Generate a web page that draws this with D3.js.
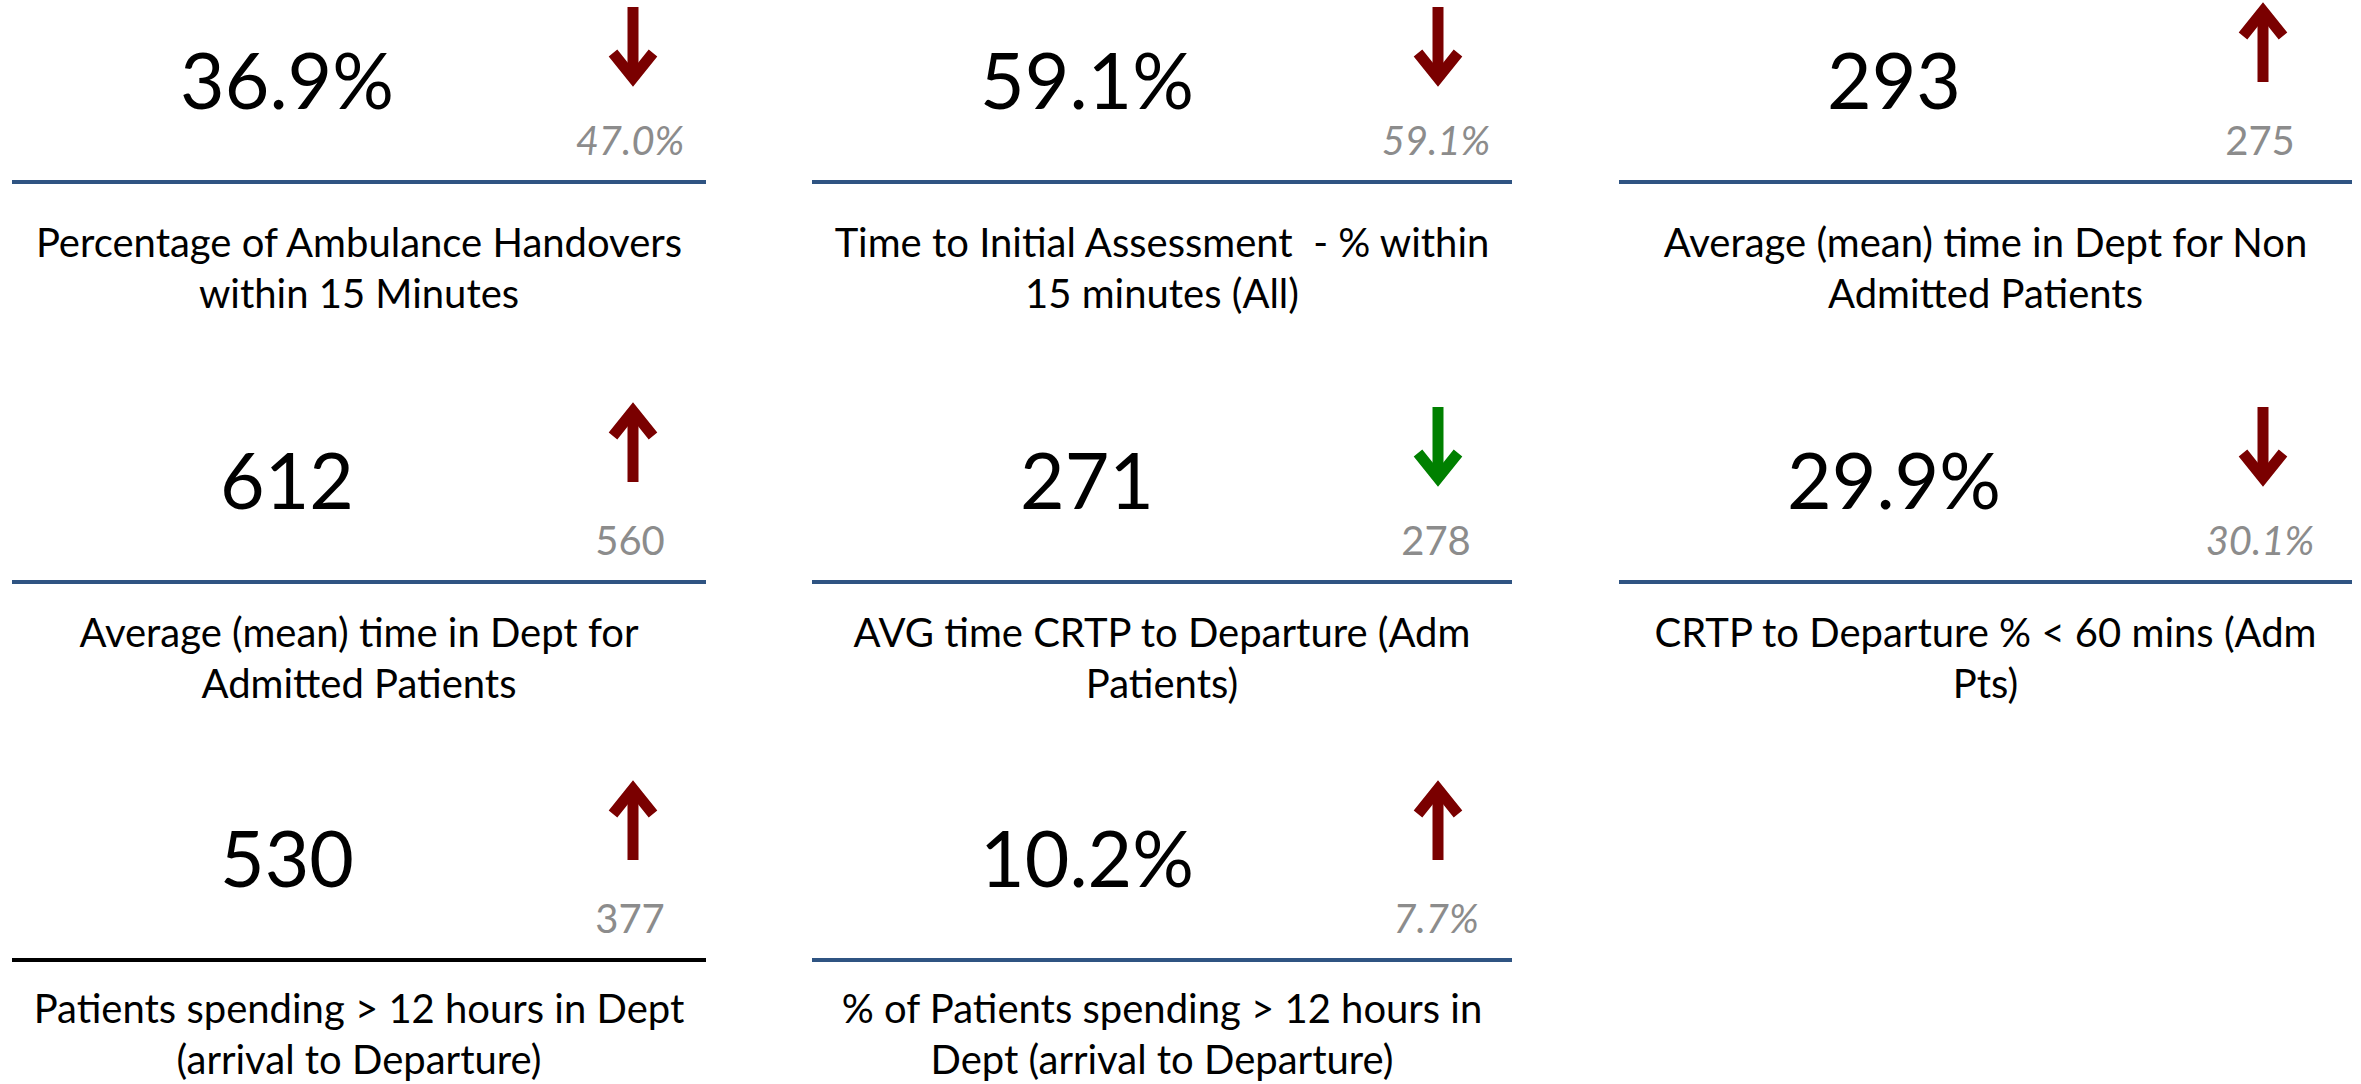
<!DOCTYPE html>
<html>
<head>
<meta charset="utf-8">
<script src="https://cdn.jsdelivr.net/npm/d3@7"></script>
<style>
  body { margin: 0; background: #fff; }
  text { font-family: Lato, 'Open Sans', sans-serif; white-space: pre; }
</style>
</head>
<body>
<div id="main"></div>
<script>
// kpi data
var titles = [
  ['Percentage of Ambulance Handovers', 'within 15 Minutes'],
  ['Time to Initial Assessment  - % within', '15 minutes (All)'],
  ['Average (mean) time in Dept for Non', 'Admitted Patients'],
  ['Average (mean) time in Dept for', 'Admitted Patients'],
  ['AVG time CRTP to Departure (Adm', 'Patients)'],
  ['CRTP to Departure % < 60 mins (Adm', 'Pts)'],
  ['Patients spending > 12 hours in Dept', '(arrival to Departure)'],
  ['% of Patients spending > 12 hours in', 'Dept (arrival to Departure)']
]
var current = [36.9, 59.1, 293, 612, 271, 29.9, 530, 10.2]
var previous = [47.0, 59.1, 275, 560, 278, 30.1, 377, 7.7]
var is_pct = [true, true, false, false, false, true, false, true]
var trend = ['down', 'down', 'up', 'up', 'down', 'down', 'up', 'up']
var rag = ['bad', 'bad', 'bad', 'bad', 'good', 'bad', 'bad', 'bad']

// layout of the grid
var w = 2361
var h = 1084
var col_x = [12, 812, 1619]
var col_w = [694, 700, 733]
var arrow_x = [633, 1438, 2263]
var prev_x = [630, 1436, 2260]
var row_line_y = [182, 582, 960]
var title_off = [75, 65, 63]

var svg = d3.select('div#main').append('svg')
  .attr('width', w)
  .attr('height', h)
  .attr('viewBox', [0, 0, w, h].join(' '))
  .style('background-color', 'white')

var fmt1 = d3.format('.1f')
function show (v, pct) {
  return pct ? fmt1(v) + '%' : String(v)
}

var colors = { bad: 'rgb(122,0,0)', good: 'rgb(0,128,0)' }

titles.forEach(function (t, i) {
  var col = i % 3
  var row = Math.floor(i / 3)
  var ly = row_line_y[row]
  var g = svg.append('g')

  // big number
  g.append('text')
    .text(show(current[i], is_pct[i]))
    .attr('x', col_x[col] + 275)
    .attr('y', ly - 73)
    .attr('text-anchor', 'middle')
    .style('font-size', '77px')
    .attr('fill', '#000')

  // arrow
  var ax = arrow_x[col]
  var y_top = ly - 175
  var y_bot = ly - 100
  var color = colors[rag[i]]
  var tip, back, dir
  if (trend[i] === 'down') {
    tip = y_bot - 4; back = y_top; dir = -1
  } else {
    tip = y_top + 4; back = y_bot; dir = 1
  }
  g.append('line')
    .attr('x1', ax).attr('x2', ax)
    .attr('y1', back).attr('y2', tip)
    .attr('stroke', color)
    .attr('stroke-width', 11)
  g.append('path')
    .attr('d', 'M' + (ax - 20) + ',' + (tip + dir * 25) + 'L' + ax + ',' + tip + 'L' + (ax + 20) + ',' + (tip + dir * 25))
    .attr('fill', 'none')
    .attr('stroke', color)
    .attr('stroke-width', 11)
    .attr('stroke-linejoin', 'miter')

  // previous value
  g.append('text')
    .text(show(previous[i], is_pct[i]))
    .attr('x', prev_x[col])
    .attr('y', ly - 27)
    .attr('text-anchor', 'middle')
    .style('font-size', '40px')
    .style('font-style', is_pct[i] ? 'italic' : 'normal')
    .attr('fill', 'rgb(140,140,140)')

  // separator
  g.append('line')
    .attr('x1', col_x[col]).attr('x2', col_x[col] + col_w[col])
    .attr('y1', ly).attr('y2', ly)
    .attr('stroke', i === 6 ? '#000' : 'rgb(47,84,130)')
    .attr('stroke-width', 4)

  // title, two lines
  t.forEach(function (s, k) {
    g.append('text')
      .text(s)
      .attr('x', col_x[col] + col_w[col] / 2)
      .attr('y', ly + title_off[row] + k * 51)
      .attr('text-anchor', 'middle')
      .style('font-size', '40px')
      .attr('fill', '#000')
  })
})
</script>
</body>
</html>
